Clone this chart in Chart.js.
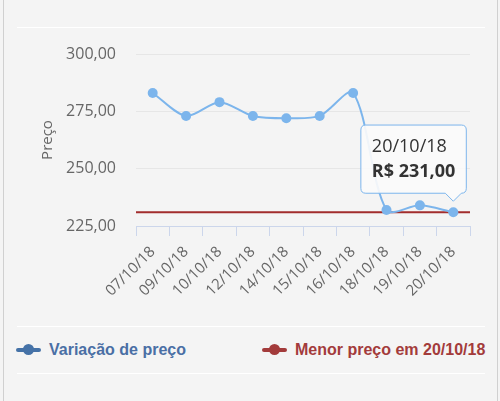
<!DOCTYPE html>
<html>
<head>
<meta charset="utf-8">
<script src="https://cdn.jsdelivr.net/npm/chart.js@4.4.1/dist/chart.umd.min.js"></script>
<style>
  html, body { margin: 0; padding: 0; }
  body { width: 500px; height: 401px; background: #f4f4f4; position: relative; overflow: hidden; }
  #wrap { position: absolute; left: 0; top: 0; width: 500px; height: 320px; }
  .sep { position: absolute; left: 17px; width: 468px; height: 1px; background: #ffffff; }
  .edge { position: absolute; top: 0; width: 1px; height: 401px; background: #d0d0d0; }
  .leg { position: absolute; top: 339px; height: 22px; font: bold 16px "Liberation Sans", Arial, sans-serif; line-height: 22px; white-space: nowrap; }
  .leg .sym { position: absolute; left: 0; top: 9px; width: 25px; height: 4px; border-radius: 2px; }
  .leg .dot { position: absolute; left: 7px; top: 5px; width: 11px; height: 11px; border-radius: 50%; }
  .leg .txt { position: absolute; left: 33px; top: 0; }
</style>
</head>
<body>
<div class="edge" style="left:3px"></div>
<div class="edge" style="left:497px"></div>
<div class="sep" style="top:27px"></div>
<div class="sep" style="top:326px"></div>
<div class="sep" style="top:373px"></div>
<div id="wrap"><canvas id="chart"></canvas></div>

<div class="leg" style="left:16px; color:#4a6fa5">
  <span class="sym" style="background:#4572a7"></span><span class="dot" style="background:#4572a7"></span>
  <span class="txt" id="leg0"></span>
</div>
<div class="leg" style="left:262px; color:#a33b3b">
  <span class="sym" style="background:#a33b3b"></span><span class="dot" style="background:#a33b3b"></span>
  <span class="txt" id="leg1"></span>
</div>

<script>
/* ================================
   DATA
================================ */
const datas = ["07/10/18", "09/10/18", "10/10/18", "12/10/18", "14/10/18",
               "15/10/18", "16/10/18", "18/10/18", "19/10/18", "20/10/18"];
const precos = [283, 273, 279, 273, 272, 273, 283, 232, 234, 231];
const menorPreco = 231;
const yTicks = { min: 225, max: 300, step: 25 };
const nomeSerie = "Variação de preço";
const nomeMenor = "Menor preço em 20/10/18";
const tituloY = "Preço";

const FONT = '"Open Sans", "DejaVu Sans", sans-serif';
const fmt = v => v.toFixed(2).replace(".", ",");

document.getElementById("leg0").textContent = nomeSerie;
document.getElementById("leg1").textContent = nomeMenor;

/* ================================
   CHART
================================ */
const chart = new Chart(document.getElementById("chart"), {
  type: "line",
  data: {
    labels: datas,
    datasets: [
      {
        label: nomeSerie,
        data: precos,
        borderColor: "#7cb5ec",
        backgroundColor: "#7cb5ec",
        borderWidth: 2,
        pointRadius: 5,
        pointBorderWidth: 0,
        pointHoverRadius: 5,
        tension: 0.3,
        order: 0
      },
      {
        label: nomeMenor,
        xAxisID: "x2",
        data: [{ x: 0, y: menorPreco }, { x: 1, y: menorPreco }],
        borderColor: "#a22d2d",
        borderWidth: 2,
        pointRadius: 0,
        order: 1
      }
    ]
  },
  options: {
    responsive: true,
    maintainAspectRatio: false,
    animation: false,
    events: [],
    layout: { padding: { left: 37, right: 30, top: 54, bottom: 0 } },
    plugins: {
      legend: { display: false },
      tooltip: {
        enabled: true,
        filter: item => item.datasetIndex === 0,
        displayColors: false,
        backgroundColor: "rgba(250,250,250,0.92)",
        borderColor: "#7cb5ec",
        borderWidth: 1,
        cornerRadius: 5,
        caretSize: 8,
        caretPadding: 11,
        titleColor: "#333333",
        bodyColor: "#333333",
        titleFont: { family: FONT, size: 18, weight: "normal" },
        bodyFont: { family: FONT, size: 18, weight: "bold" },
        titleMarginBottom: 3,
        padding: { left: 11, right: 11, top: 11, bottom: 11 },
        yAlign: "bottom",
        callbacks: {
          label: ctx => "R$ " + fmt(ctx.parsed.y)
        }
      }
    },
    scales: {
      x: {
        offset: true,
        grid: { offset: true, drawOnChartArea: false, tickLength: 10, color: "#ccd6eb" },
        border: { color: "#ccd6eb" },
        ticks: { color: "#666666", font: { family: FONT, size: 15 }, minRotation: 45, maxRotation: 45, padding: 7 },
        afterFit: s => { s.height = 94; }
      },
      x2: {
        type: "linear",
        display: false,
        min: 0,
        max: 1
      },
      y: {
        min: yTicks.min,
        max: yTicks.max,
        grid: { color: "#e6e6e6", drawTicks: false },
        border: { display: false },
        ticks: { stepSize: yTicks.step, color: "#666666", padding: 20, font: { family: FONT, size: 16 }, callback: v => fmt(v) },
        title: { display: true, text: tituloY, color: "#666666", font: { family: FONT, size: 15 }, padding: { top: 2, bottom: 0 } },
        afterFit: s => { s.width = 99; }
      }
    }
  }
});

chart.tooltip.setActiveElements([{ datasetIndex: 0, index: precos.length - 1 }], { x: 0, y: 0 });
chart.update();
</script>
</body>
</html>
